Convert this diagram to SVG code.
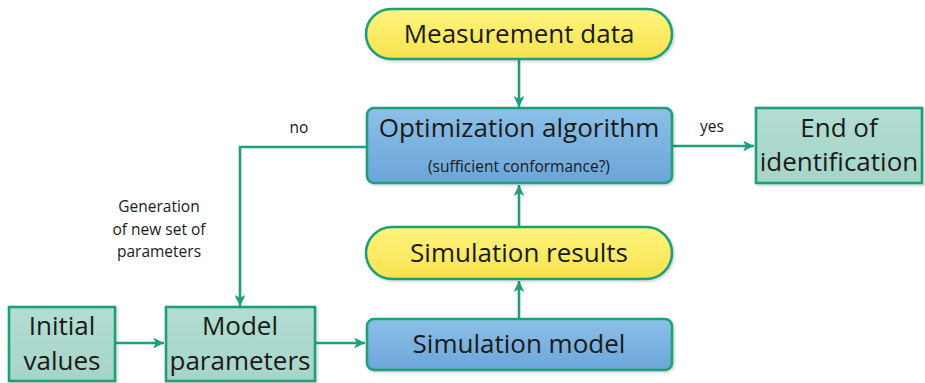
<svg xmlns="http://www.w3.org/2000/svg" width="925" height="383" viewBox="0 0 925 383">
<defs>
<linearGradient id="gY" x1="0" y1="0" x2="0" y2="1"><stop offset="0" stop-color="#FFF47E"/><stop offset="1" stop-color="#F8E24E"/></linearGradient>
<linearGradient id="gB" x1="0" y1="0" x2="0" y2="1"><stop offset="0" stop-color="#8CC0E8"/><stop offset="1" stop-color="#6AA5D9"/></linearGradient>
<linearGradient id="gT" x1="0" y1="0" x2="0" y2="1"><stop offset="0" stop-color="#B3DDD2"/><stop offset="1" stop-color="#A6D5C8"/></linearGradient>
<marker id="arr" viewBox="0 0 10 10" refX="10" refY="5" markerWidth="4.2" markerHeight="4.2" orient="auto" markerUnits="strokeWidth"><path d="M0,0 L10,5 L0,10 L2.5,5 Z" fill="#1FA07C"/></marker>
<filter id="sh" x="-5%" y="-5%" width="110%" height="115%"><feDropShadow dx="1.5" dy="1.5" stdDeviation="1" flood-color="#000" flood-opacity="0.18"/></filter>
</defs>
<style>
.node{stroke:#1FA07C;stroke-width:2.6;filter:url(#sh)}
.y{fill:url(#gY)}.b{fill:url(#gB)}.t{fill:url(#gT)}
text{font-family:"Open Sans","Noto Sans","DejaVu Sans",sans-serif;fill:#1a1a1a;text-anchor:middle}
.big{font-size:26px}
.sm{font-size:15.5px}
.conn{fill:none;stroke:#1FA07C;stroke-width:2.6;marker-end:url(#arr)}
</style>
<rect width="925" height="383" fill="#fff"/>
<g id="connectors">
<path class="conn" d="M519,59 V107"/>
<path class="conn" d="M519,319 V281"/>
<path class="conn" d="M519,227 V185"/>
<path class="conn" d="M672,146 H754"/>
<path class="conn" d="M367,147 H240 V306"/>
<path class="conn" d="M115,343 H164"/>
<path class="conn" d="M315,343 H365"/>
</g>
<g id="labels">
<text class="sm" x="299" y="133">no</text>
<text class="sm" x="712" y="132">yes</text>
<text class="sm" x="159" y="212">Generation</text>
<text class="sm" x="159" y="235">of new set of</text>
<text class="sm" x="159" y="257">parameters</text>
</g>
<g id="measurement">
<rect class="node y" x="366" y="9" width="306" height="50" rx="25"/>
<text class="big" x="519" y="43">Measurement data</text>
</g>
<g id="optimization">
<rect class="node b" x="367" y="108" width="305" height="75" rx="7"/>
<text class="big" x="519" y="137">Optimization algorithm</text>
<text class="sm" x="519" y="172">(sufficient conformance?)</text>
</g>
<g id="end">
<rect class="node t" x="756" y="108" width="166" height="75"/>
<text class="big" x="839" y="137">End of</text>
<text class="big" x="839" y="171">identification</text>
</g>
<g id="simresults">
<rect class="node y" x="366" y="227" width="306" height="52" rx="26"/>
<text class="big" x="519" y="262">Simulation results</text>
</g>
<g id="simmodel">
<rect class="node b" x="367" y="319" width="305" height="51" rx="7"/>
<text class="big" x="519" y="353">Simulation model</text>
</g>
<g id="initial">
<rect class="node t" x="9" y="307" width="106" height="74"/>
<text class="big" x="62" y="335">Initial</text>
<text class="big" x="62" y="370">values</text>
</g>
<g id="modelparams">
<rect class="node t" x="166" y="307" width="149" height="74"/>
<text class="big" x="240" y="335">Model</text>
<text class="big" x="240" y="370">parameters</text>
</g>
</svg>
